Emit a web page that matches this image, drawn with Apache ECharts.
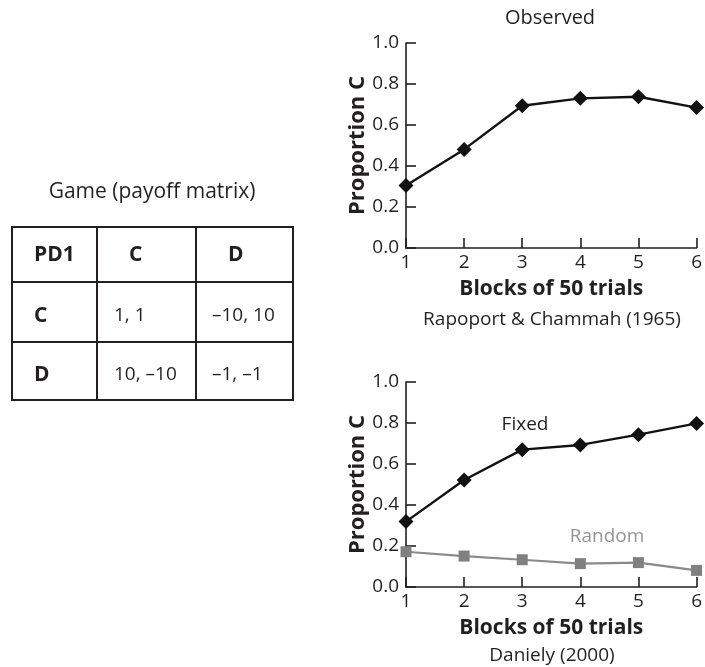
<!DOCTYPE html>
<html>
<head>
<meta charset="utf-8">
<script src="https://cdn.jsdelivr.net/npm/echarts@6/dist/echarts.min.js"></script>
<style>
  html, body { margin: 0; padding: 0; background: #fff; }
  #chart { width: 705px; height: 667px; }
</style>
</head>
<body>
<div id="chart"></div>
<script>
// 数据
const blocks = [1, 2, 3, 4, 5, 6];
const observed = [0.305, 0.481, 0.694, 0.730, 0.738, 0.685];
const fixed = [0.319, 0.522, 0.670, 0.693, 0.743, 0.798];
const random = [0.172, 0.151, 0.133, 0.114, 0.119, 0.081];
const yTicks = [0, 0.2, 0.4, 0.6, 0.8, 1.0];

// 收益矩阵
const tableHeader = ['PD1', 'C', 'D'];
const tableRows = [
    ['C', '1, 1', '\u201310, 10'],
    ['D', '10, \u201310', '\u20131, \u20131']
];

const font = 'Open Sans';
const ink = '#231f20';

const pairs = (vals) => blocks.map((b, i) => [b, vals[i]]);

// 坐标轴通用设置
const xAxisBase = (gi) => ({
    type: 'value', gridIndex: gi, min: 1, max: 6, interval: 1,
    name: 'Blocks of 50 trials', nameLocation: 'middle', nameGap: 31,
    nameTextStyle: { fontFamily: font, fontWeight: 'bold', fontSize: 21, color: ink },
    axisLine: { lineStyle: { color: ink, width: 1.6 } },
    axisTick: { inside: true, length: 10, lineStyle: { color: ink, width: 1.6 } },
    axisLabel: { fontFamily: font, fontSize: 19, color: ink, margin: 5 },
    splitLine: { show: false }
});
const yAxisBase = (gi) => ({
    type: 'value', gridIndex: gi, min: 0, max: 1, interval: 0.2,
    name: 'Proportion C', nameLocation: 'middle', nameGap: 37,
    nameTextStyle: { fontFamily: font, fontWeight: 'bold', fontSize: 22, color: ink },
    axisLine: { show: true, lineStyle: { color: ink, width: 1.6 } },
    axisTick: { show: true, inside: true, length: 10, lineStyle: { color: ink, width: 1.6 } },
    axisLabel: { fontFamily: font, fontSize: 19, color: ink, margin: 7,
        formatter: (v) => v.toFixed(1) },
    splitLine: { show: false }
});

// 表格
const tbl = { colX: [12, 97, 196, 293], rowY: [227, 282, 342, 400] };
const tableGraphics = [];
tableGraphics.push({
    type: 'rect', shape: { x: tbl.colX[0], y: tbl.rowY[0], width: tbl.colX[3] - tbl.colX[0], height: tbl.rowY[3] - tbl.rowY[0] },
    style: { fill: 'none', stroke: ink, lineWidth: 2 }
});
[1, 2].forEach(i => {
    tableGraphics.push({ type: 'line', shape: { x1: tbl.colX[i], y1: tbl.rowY[0], x2: tbl.colX[i], y2: tbl.rowY[3] }, style: { stroke: ink, lineWidth: 2 } });
    tableGraphics.push({ type: 'line', shape: { x1: tbl.colX[0], y1: tbl.rowY[i], x2: tbl.colX[3], y2: tbl.rowY[i] }, style: { stroke: ink, lineWidth: 2 } });
});
const headerX = [34, 129, 228];
tableHeader.forEach((t, i) => {
    tableGraphics.push({ type: 'text', x: headerX[i], y: (tbl.rowY[0] + tbl.rowY[1]) / 2 + 1,
        style: { text: t, fontFamily: font, fontWeight: 'bold', fontSize: 21, fill: ink, verticalAlign: 'middle' } });
});
const cellX = [34, 114, 212];
tableRows.forEach((row, r) => {
    row.forEach((t, c) => {
        tableGraphics.push({ type: 'text', x: cellX[c], y: (tbl.rowY[r + 1] + tbl.rowY[r + 2]) / 2 + 4,
            style: { text: t, fontFamily: font, fontWeight: c === 0 ? 'bold' : 'normal', fontSize: c === 0 ? 21 : 19,
                fill: ink, verticalAlign: 'middle' } });
    });
});
tableGraphics.push({ type: 'text', x: 152, y: 192,
    style: { text: 'Game (payoff matrix)', fontFamily: font, fontSize: 21, fill: ink, align: 'center', verticalAlign: 'middle' } });

// 图中注释
const notes = [
    { text: 'Observed', x: 550, y: 18, size: 20, color: ink },
    { text: 'Rapoport & Chammah (1965)', x: 552, y: 320, size: 19, color: ink },
    { text: 'Daniely (2000)', x: 552, y: 656, size: 19, color: ink },
    { text: 'Fixed', x: 525, y: 425, size: 19, color: ink },
    { text: 'Random', x: 607, y: 537, size: 19, color: '#939598' }
];
notes.forEach(n => tableGraphics.push({ type: 'text', x: n.x, y: n.y,
    style: { text: n.text, fontFamily: font, fontSize: n.size, fill: n.color, align: 'center', verticalAlign: 'middle' } }));

const c = echarts.init(document.getElementById('chart'));
c.setOption({
    animation: false,
    backgroundColor: '#fff',
    grid: [
        { left: 406, right: 6, top: 43, height: 205 },
        { left: 406, right: 6, top: 382, height: 205 }
    ],
    xAxis: [xAxisBase(0), xAxisBase(1)],
    yAxis: [yAxisBase(0), yAxisBase(1)],
    series: [
        { type: 'line', xAxisIndex: 0, yAxisIndex: 0, data: pairs(observed),
          symbol: 'diamond', symbolSize: 15, lineStyle: { color: '#111', width: 2.4 }, itemStyle: { color: '#111' } },
        { type: 'line', xAxisIndex: 1, yAxisIndex: 1, data: pairs(fixed),
          symbol: 'diamond', symbolSize: 15, lineStyle: { color: '#111', width: 2.4 }, itemStyle: { color: '#111' } },
        { type: 'line', xAxisIndex: 1, yAxisIndex: 1, data: pairs(random),
          symbol: 'rect', symbolSize: 11, lineStyle: { color: '#8a8a8a', width: 2.2 }, itemStyle: { color: '#808080' } }
    ],
    graphic: { elements: tableGraphics }
});
</script>
</body>
</html>
